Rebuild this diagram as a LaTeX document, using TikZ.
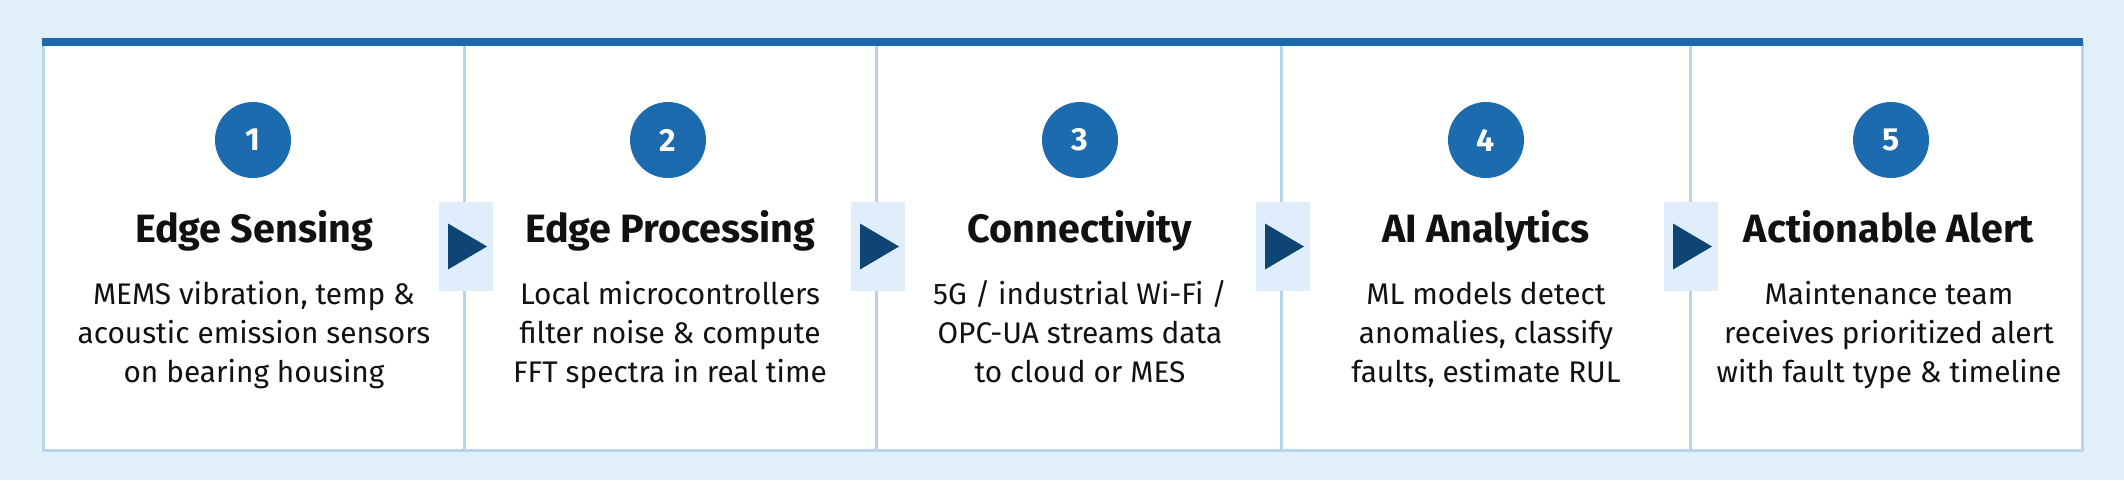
\documentclass[tikz,border=0pt]{standalone}
\usepackage{fontspec}
\setmainfont{Fira Sans}
\definecolor{bgc}{HTML}{E1EFF9}
\definecolor{brd}{HTML}{B7D4EA}
\definecolor{barc}{HTML}{1C69AC}
\definecolor{circc}{HTML}{1B6BAE}
\definecolor{navy}{HTML}{0F4574}
\definecolor{abox}{HTML}{DFEEFA}
\definecolor{txt}{HTML}{111111}
\tikzset{
  numc/.style={circle, fill=circc, minimum size=76pt, inner sep=0pt, text=white, font=\fontsize{32}{32}\selectfont\bfseries},
  ttl/.style={anchor=base, text=txt, font=\fontsize{39.5}{40}\selectfont\bfseries, inner sep=0pt},
  bdy/.style={anchor=base, text=txt, align=center, font=\fontsize{29.8}{39}\selectfont, inner sep=0pt},
  arbox/.style={fill=abox, minimum width=54pt, minimum height=89pt, inner sep=0pt},
  divl/.style={draw=brd, line width=3pt}
}
\begin{document}
\begin{tikzpicture}[x=1pt,y=-1pt]
\useasboundingbox (0,0) rectangle (2124,480);
\fill[bgc] (0,0) rectangle (2124,480);
% panel
\node[draw=brd, fill=white, line width=3pt, minimum width=2039pt, minimum height=408pt, inner sep=0pt] (panel) at (1062.5,246) {};
\fill[barc] (42,38) rectangle (2083,46);
% dividers
\coordinate (d1) at (464,46); \coordinate (d1b) at (464,450);
\coordinate (d2) at (876,46); \coordinate (d2b) at (876,450);
\coordinate (d3) at (1281,46); \coordinate (d3b) at (1281,450);
\coordinate (d4) at (1690,46); \coordinate (d4b) at (1690,450);
\draw[divl] (d1) -- (d1b);
\draw[divl] (d2) -- (d2b);
\draw[divl] (d3) -- (d3b);
\draw[divl] (d4) -- (d4b);
% arrows
\foreach \i/\x in {1/466,2/878,3/1283,4/1691}{
  \node[arbox] (a\i) at (\x,246.5) {};
  \fill[navy] ([xshift=-18pt,yshift=23pt]a\i.center) -- ([xshift=21pt]a\i.center) -- ([xshift=-18pt,yshift=-23pt]a\i.center) -- cycle;
}
% columns
\node[numc] (c1) at (253,140) {1};
\node[numc] (c2) at (668,140) {2};
\node[numc] (c3) at (1080,140) {3};
\node[numc] (c4) at (1486,140) {4};
\node[numc] (c5) at (1891,140) {5};
\node[ttl] (t1) at (254,242) {Edge Sensing};
\node[ttl] (t2) at (670,242) {Edge Processing};
\node[ttl] (t3) at (1080,242) {Connectivity};
\node[ttl] (t4) at (1486,242) {AI Analytics};
\node[ttl] (t5) at (1889,242) {Actionable Alert};
\node[bdy] (b1) at (254,382) {MEMS vibration, temp \&\\acoustic emission sensors\\on bearing housing};
\node[bdy] (b2) at (670,382) {Local microcontrollers\\filter noise \& compute\\FFT spectra in real time};
\node[bdy] (b3) at (1080,382) {5G / industrial Wi-Fi /\\OPC-UA streams data\\to cloud or MES};
\node[bdy] (b4) at (1486,382) {ML models detect\\anomalies, classify\\faults, estimate RUL};
\node[bdy] (b5) at (1889,382) {Maintenance team\\receives prioritized alert\\with fault type \& timeline};
\end{tikzpicture}
\end{document}
